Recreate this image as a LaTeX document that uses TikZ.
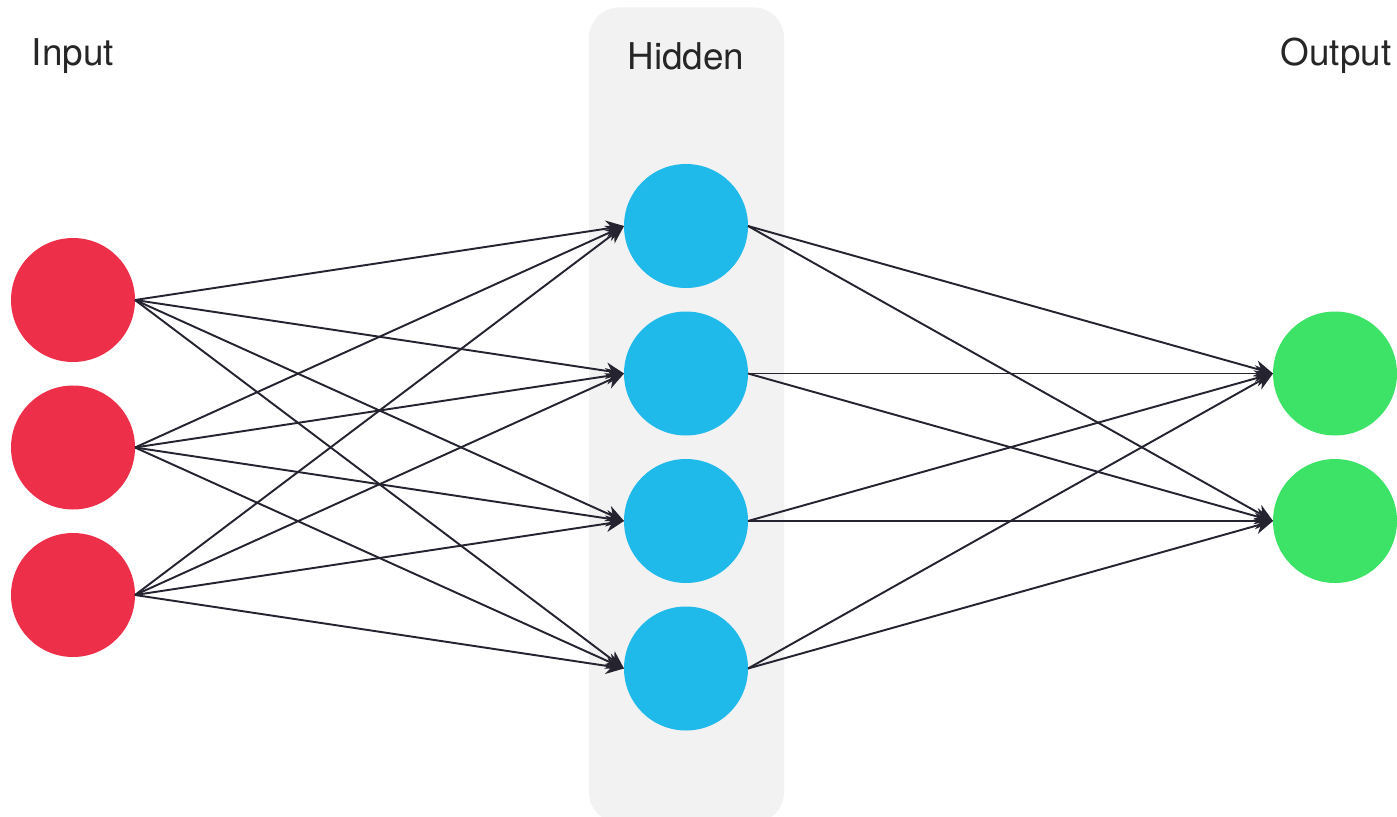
\documentclass[tikz,border=0pt]{standalone}
\usepackage{fontspec}
\setmainfont{TeX Gyre Heros}
\usepackage{tikz}
\usetikzlibrary{arrows.meta, positioning}

\definecolor{inred}{HTML}{EE2F4A}
\definecolor{hidblue}{HTML}{1FB9EA}
\definecolor{outgreen}{HTML}{3DE366}
\definecolor{bandgray}{HTML}{F2F2F3}
\definecolor{edgeink}{HTML}{25232F}

\begin{document}
\begin{tikzpicture}[
    neuron/.style={circle, minimum size=2.48cm, inner sep=0pt, outer sep=0pt},
    layerlabel/.style={font=\fontsize{21}{25}\selectfont, text=black!85, inner sep=0pt},
    band/.style={fill=bandgray, rounded corners=0.6cm, minimum width=3.9cm, minimum height=16.3cm},
    >={Stealth[length=0.36cm, width=0.33cm]}, line width=1.1pt
    ]
    \useasboundingbox (0,0) rectangle (27.94,-16.34);
    \node[band] (band) at (13.73,-8.3) {};

    \node[layerlabel] (inlabel) at (1.46,-1.12) {Input};
    \node[layerlabel] (hidlabel) at (13.72,-1.12) {Hidden};
    \node[layerlabel] (outlabel) at (26.72,-1.12) {Output};

    \node[neuron, fill=inred] (i1) at (1.46,-6.0) {};
    \node[neuron, fill=inred, below=0.47cm of i1] (i2) {};
    \node[neuron, fill=inred, below=0.47cm of i2] (i3) {};

    \node[neuron, fill=hidblue] (h1) at (13.72,-4.52) {};
    \node[neuron, fill=hidblue, below=0.47cm of h1] (h2) {};
    \node[neuron, fill=hidblue, below=0.47cm of h2] (h3) {};
    \node[neuron, fill=hidblue, below=0.47cm of h3] (h4) {};

    \node[neuron, fill=outgreen] (o1) at (26.7,-7.47) {};
    \node[neuron, fill=outgreen, below=0.47cm of o1] (o2) {};

    \draw[->, edgeink] (i1.east) -- (h1.west);
    \draw[->, edgeink] (i1.east) -- (h2.west);
    \draw[->, edgeink] (i1.east) -- (h3.west);
    \draw[->, edgeink] (i1.east) -- (h4.west);

    \draw[->, edgeink] (i2.east) -- (h1.west);
    \draw[->, edgeink] (i2.east) -- (h2.west);
    \draw[->, edgeink] (i2.east) -- (h3.west);
    \draw[->, edgeink] (i2.east) -- (h4.west);

    \draw[->, edgeink] (i3.east) -- (h1.west);
    \draw[->, edgeink] (i3.east) -- (h2.west);
    \draw[->, edgeink] (i3.east) -- (h3.west);
    \draw[->, edgeink] (i3.east) -- (h4.west);

    \draw[->, edgeink] (h1.east) -- (o1.west);
    \draw[->, edgeink] (h1.east) -- (o2.west);
    \draw[->, edgeink] (h2.east) -- (o1.west);
    \draw[->, edgeink] (h2.east) -- (o2.west);
    \draw[->, edgeink] (h3.east) -- (o1.west);
    \draw[->, edgeink] (h3.east) -- (o2.west);
    \draw[->, edgeink] (h4.east) -- (o1.west);
    \draw[->, edgeink] (h4.east) -- (o2.west);
  \end{tikzpicture}
\end{document}
